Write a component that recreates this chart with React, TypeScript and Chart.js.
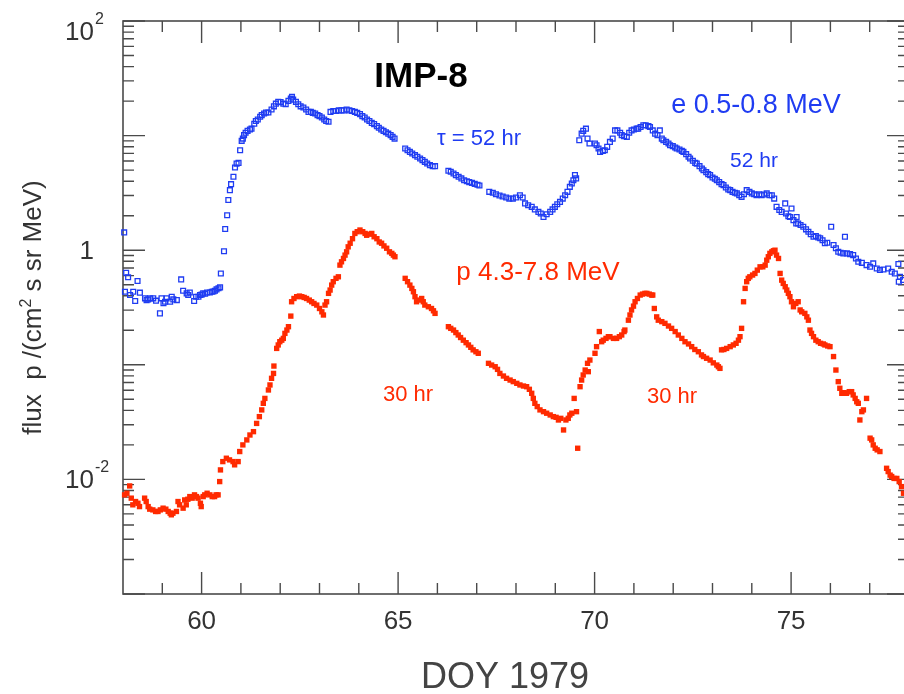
import React, { useEffect, useRef } from 'react';
import { Chart, registerables } from 'chart.js';
Chart.register(...registerables);

// ---------- data: electrons e 0.5-0.8 MeV (DOY 1979, flux) ----------
const electronDays = [
  58.03, 58.05, 58.08, 58.13, 58.18, 58.26, 58.31, 58.37, 58.43, 58.56,
  58.60, 58.64, 58.69, 58.77, 58.84, 58.94, 58.98, 59.03, 59.07, 59.11,
  59.20, 59.24, 59.28, 59.37, 59.48, 59.53, 59.62, 59.66, 59.70, 59.81,
  59.86, 59.92, 59.96, 60.00, 60.04, 60.09, 60.14, 60.21, 60.26, 60.30,
  60.34, 60.38, 60.43, 60.47, 60.49, 60.57, 60.60, 60.65, 60.68, 60.72,
  60.75, 60.81, 60.85, 60.89, 60.94, 60.98, 61.02, 61.05, 61.08, 61.12,
  61.17, 61.23, 61.27, 61.34, 61.38, 61.43, 61.49, 61.53, 61.59, 61.64,
  61.70, 61.78, 61.84, 61.89, 61.95, 62.01, 62.08, 62.14, 62.21, 62.27,
  62.30, 62.33, 62.40, 62.46, 62.52, 62.59, 62.66, 62.72, 62.78, 62.83,
  62.89, 62.95, 63.00, 63.06, 63.12, 63.17, 63.23, 63.28, 63.35, 63.42,
  63.49, 63.56, 63.62, 63.69, 63.76, 63.83, 63.90, 63.96, 64.03, 64.09,
  64.15, 64.21, 64.27, 64.33, 64.39, 64.46, 64.51, 64.57, 64.63, 64.69,
  64.75, 64.81, 64.86, 64.91, 65.18, 65.24, 65.30, 65.36, 65.43, 65.49,
  65.56, 65.62, 65.68, 65.74, 65.81, 65.88, 65.94, 66.28, 66.34, 66.41,
  66.47, 66.54, 66.61, 66.68, 66.75, 66.81, 66.88, 66.95, 67.02, 67.07,
  67.32, 67.41, 67.49, 67.58, 67.66, 67.75, 67.83, 67.92, 68.00, 68.10,
  68.17, 68.23, 68.31, 68.40, 68.48, 68.57, 68.63, 68.70, 68.78, 68.87,
  68.93, 68.99, 69.05, 69.12, 69.19, 69.25, 69.31, 69.37, 69.42, 69.46,
  69.50, 69.53, 69.61, 69.67, 69.71, 69.78, 69.82, 69.87, 70.01, 70.05,
  70.10, 70.14, 70.21, 70.26, 70.32, 70.39, 70.46, 70.52, 70.58, 70.65,
  70.69, 70.75, 70.82, 70.88, 70.94, 71.00, 71.07, 71.11, 71.17, 71.24,
  71.30, 71.37, 71.41, 71.48, 71.54, 71.60, 71.66, 71.71, 71.75, 71.82,
  71.88, 71.92, 71.99, 72.05, 72.09, 72.16, 72.22, 72.26, 72.33, 72.39,
  72.43, 72.50, 72.56, 72.60, 72.67, 72.73, 72.77, 72.84, 72.89, 72.94,
  73.00, 73.06, 73.11, 73.17, 73.23, 73.28, 73.34, 73.40, 73.45, 73.51,
  73.57, 73.62, 73.68, 73.74, 73.80, 73.87, 73.94, 74.00, 74.06, 74.12,
  74.19, 74.25, 74.31, 74.38, 74.45, 74.51, 74.57, 74.63, 74.70, 74.76,
  74.85, 74.87, 74.93, 74.97, 75.01, 75.06, 75.13, 75.14, 75.18, 75.24,
  75.31, 75.38, 75.44, 75.50, 75.57, 75.63, 75.69, 75.74, 75.80, 75.86,
  75.92, 76.02, 76.08, 76.14, 76.20, 76.26, 76.33, 76.37, 76.42, 76.50,
  76.58, 76.65, 76.71, 76.80, 76.92, 77.01, 77.09, 77.18, 77.26, 77.35,
  77.47, 77.56, 77.64, 77.73, 77.74, 77.77, 77.85,
];
const electronFlux = [
  1.43, 0.434, 0.635, 0.58, 0.406, 0.434, 0.36, 0.538, 0.426, 0.38,
  0.367, 0.372, 0.38, 0.38, 0.363, 0.281, 0.38, 0.344, 0.355, 0.38,
  0.355, 0.393, 0.372, 0.367, 0.556, 0.443, 0.42, 0.406, 0.428, 0.36,
  0.393, 0.393, 0.406, 0.41, 0.42, 0.417, 0.428, 0.428, 0.434, 0.436,
  0.443, 0.455, 0.465, 0.474, 0.627, 0.98, 1.53, 2.02, 2.74, 3.34,
  3.77, 4.37, 5.27, 5.70, 5.78, 7.46, 9.0, 9.42, 10.1, 10.6,
  11.0, 11.3, 11.5, 12.7, 13.4, 13.8, 14.6, 15.1, 15.6, 15.9,
  15.9, 16.9, 18.0, 19.0, 19.7, 19.6, 19.0, 18.8, 20.1, 21.0,
  21.8, 20.6, 19.7, 18.8, 18.0, 17.6, 16.9, 16.1, 16.1, 15.8,
  15.6, 15.1, 14.8, 14.4, 13.8, 13.4, 13.2, 16.1, 16.4, 16.4,
  16.6, 16.6, 16.6, 16.9, 16.6, 16.4, 16.1, 15.8, 15.4, 14.8,
  14.4, 13.8, 13.4, 12.9, 12.6, 12.1, 11.7, 11.3, 11.0, 10.7,
  10.4, 10.1, 9.75, 9.42, 7.71, 7.46, 7.21, 6.98, 6.75, 6.53,
  6.31, 6.11, 5.9, 5.71, 5.52, 5.41, 5.41, 4.93, 4.83, 4.67,
  4.52, 4.37, 4.23, 4.08, 4.0, 3.93, 3.87, 3.79, 3.72, 3.67,
  3.23, 3.17, 3.08, 3.0, 2.94, 2.88, 2.82, 2.82, 2.88, 3.02,
  2.88, 2.56, 2.47, 2.39, 2.27, 2.16, 2.09, 1.95, 2.06, 2.16,
  2.27, 2.39, 2.52, 2.64, 2.82, 3.02, 3.23, 3.57, 3.82, 4.08,
  4.52, 4.23, 9.12, 10.4, 11.0, 11.5, 9.42, 8.53, 8.53, 8.24,
  7.71, 7.21, 7.36, 7.46, 7.98, 8.81, 9.42, 11.1, 11.1, 10.6,
  10.1, 9.88, 9.75, 10.6, 11.1, 11.3, 11.5, 11.5, 11.9, 12.3,
  12.3, 12.1, 11.9, 11.1, 10.4, 10.1, 11.1, 9.42, 9.12, 8.81,
  8.53, 8.24, 8.09, 7.87, 7.71, 7.57, 7.36, 7.21, 6.89, 6.53,
  6.31, 6.03, 5.78, 5.70, 5.41, 5.16, 4.99, 4.80, 4.61, 4.52,
  4.31, 4.20, 4.08, 3.93, 3.77, 3.70, 3.52, 3.39, 3.34, 3.23,
  3.17, 3.13, 3.02, 2.92, 3.08, 3.34, 3.23, 3.13, 3.08, 3.02,
  3.08, 3.02, 3.06, 3.13, 3.02, 3.02, 2.82, 2.39, 2.24, 2.16,
  2.56, 2.09, 1.98, 1.95, 2.31, 1.83, 1.71, 1.95, 1.71, 1.66,
  1.60, 1.52, 1.45, 1.38, 1.31, 1.33, 1.29, 1.27, 1.22, 1.15,
  1.16, 1.60, 1.11, 1.04, 0.968, 0.95, 0.938, 1.31, 0.938, 0.925,
  0.906, 0.847, 0.792, 0.776, 0.741, 0.718, 0.767, 0.693, 0.671, 0.679,
  0.693, 0.649, 0.627, 0.757, 0.53, 0.586, 0.55,
];

// ---------- data: protons p 4.3-7.8 MeV (DOY 1979, flux) ----------
const protonDays = [
  58.04, 58.10, 58.17, 58.21, 58.25, 58.32, 58.38, 58.42, 58.55, 58.59,
  58.64, 58.68, 58.76, 58.83, 58.89, 58.95, 59.02, 59.09, 59.15, 59.20,
  59.23, 59.27, 59.36, 59.40, 59.44, 59.53, 59.57, 59.61, 59.65, 59.70,
  59.76, 59.82, 59.87, 59.91, 59.97, 59.99, 60.04, 60.08, 60.14, 60.21,
  60.27, 60.33, 60.37, 60.42, 60.46, 60.48, 60.54, 60.63, 60.71, 60.80,
  60.84, 60.93, 60.97, 61.05, 61.15, 61.23, 61.32, 61.40, 61.47, 61.53,
  61.57, 61.61, 61.70, 61.74, 61.78, 61.83, 61.84, 61.91, 61.95, 61.99,
  62.04, 62.08, 62.12, 62.17, 62.21, 62.27, 62.29, 62.35, 62.42, 62.49,
  62.55, 62.61, 62.67, 62.74, 62.80, 62.86, 62.93, 63.00, 63.06, 63.10,
  63.14, 63.18, 63.23, 63.27, 63.31, 63.35, 63.42, 63.48, 63.52, 63.56,
  63.61, 63.65, 63.69, 63.73, 63.78, 63.84, 63.90, 63.96, 64.03, 64.10,
  64.16, 64.20, 64.27, 64.33, 64.39, 64.46, 64.52, 64.58, 64.64, 64.71,
  64.78, 64.84, 64.88, 64.92, 65.18, 65.24, 65.30, 65.35, 65.39, 65.43,
  65.47, 65.54, 65.60, 65.64, 65.68, 65.77, 65.85, 65.90, 65.94, 66.28,
  66.34, 66.41, 66.47, 66.53, 66.59, 66.66, 66.73, 66.79, 66.85, 66.91,
  66.98, 67.04, 67.30, 67.38, 67.47, 67.53, 67.59, 67.68, 67.76, 67.85,
  67.93, 68.02, 68.10, 68.19, 68.27, 68.34, 68.40, 68.44, 68.48, 68.54,
  68.61, 68.70, 68.78, 68.87, 68.95, 69.02, 69.08, 69.14, 69.21, 69.27,
  69.33, 69.37, 69.42, 69.48, 69.54, 69.57, 69.63, 69.67, 69.71, 69.76,
  69.82, 69.84, 69.88, 70.01, 70.05, 70.12, 70.18, 70.22, 70.29, 70.35,
  70.39, 70.48, 70.56, 70.63, 70.69, 70.75, 70.77, 70.86, 70.90, 70.94,
  70.99, 71.03, 71.09, 71.16, 71.22, 71.28, 71.33, 71.39, 71.45, 71.48,
  71.52, 71.58, 71.62, 71.71, 71.79, 71.88, 71.96, 72.05, 72.13, 72.22,
  72.30, 72.39, 72.47, 72.55, 72.64, 72.72, 72.77, 72.85, 72.94, 73.02,
  73.11, 73.15, 73.19, 73.23, 73.29, 73.36, 73.45, 73.53, 73.60, 73.66,
  73.70, 73.74, 73.79, 73.83, 73.87, 73.91, 73.95, 74.02, 74.08, 74.14,
  74.21, 74.28, 74.34, 74.38, 74.42, 74.46, 74.51, 74.55, 74.59, 74.63,
  74.68, 74.72, 74.76, 74.80, 74.85, 74.89, 74.93, 74.97, 75.01, 75.06,
  75.12, 75.18, 75.23, 75.27, 75.35, 75.40, 75.44, 75.48, 75.52, 75.57,
  75.63, 75.69, 75.75, 75.82, 75.86, 75.93, 75.99, 76.08, 76.14, 76.20,
  76.24, 76.29, 76.35, 76.41, 76.48, 76.54, 76.58, 76.63, 76.67, 76.71,
  76.75, 76.80, 76.84, 76.92, 77.01, 77.05, 77.09, 77.14, 77.19, 77.26,
  77.43, 77.47, 77.52, 77.56, 77.62, 77.69, 77.75, 77.81, 77.86,
];
const protonFlux = [
  0.00733, 0.00757, 0.00877, 0.00686, 0.0060, 0.00641, 0.00619, 0.00579, 0.00686, 0.00641,
  0.00579, 0.0055, 0.00542, 0.00525, 0.00525, 0.00542, 0.00561, 0.0055, 0.00525, 0.00507,
  0.00491, 0.00507, 0.00525, 0.00641, 0.0060, 0.00561, 0.00662, 0.0060, 0.00671, 0.00708,
  0.00686, 0.00733, 0.00708, 0.00686, 0.00619, 0.00579, 0.00708, 0.00733, 0.00757, 0.00733,
  0.00708, 0.00708, 0.00733, 0.00733, 0.00957, 0.0121, 0.0143, 0.0153, 0.0148, 0.0143,
  0.0134, 0.0143, 0.0175, 0.02, 0.0221, 0.0244, 0.0261, 0.0308, 0.0353, 0.0404,
  0.0461, 0.0509, 0.0603, 0.0667, 0.0762, 0.0841, 0.0975, 0.139, 0.149, 0.159,
  0.164, 0.17, 0.188, 0.201, 0.215, 0.266, 0.355, 0.379, 0.393, 0.398,
  0.393, 0.387, 0.379, 0.367, 0.355, 0.343, 0.332, 0.31, 0.29, 0.272,
  0.332, 0.355, 0.42, 0.449, 0.496, 0.531, 0.568, 0.586, 0.741, 0.792,
  0.847, 0.906, 0.968, 1.07, 1.15, 1.26, 1.40, 1.45, 1.50, 1.45,
  1.40, 1.35, 1.38, 1.40, 1.31, 1.26, 1.18, 1.15, 1.09, 1.04,
  0.968, 0.938, 0.906, 0.877, 0.568, 0.531, 0.496, 0.464, 0.434, 0.393,
  0.355, 0.367, 0.379, 0.355, 0.332, 0.321, 0.31, 0.296, 0.281, 0.215,
  0.208, 0.201, 0.191, 0.182, 0.173, 0.164, 0.156, 0.149, 0.142, 0.135,
  0.13, 0.126, 0.103, 0.0995, 0.0962, 0.0912, 0.0841, 0.0798, 0.0762, 0.0736,
  0.0713, 0.0689, 0.0667, 0.0653, 0.0644, 0.0611, 0.0564, 0.0509, 0.0461, 0.0432,
  0.0404, 0.039, 0.0378, 0.0365, 0.0353, 0.0348, 0.033, 0.0341, 0.027, 0.033,
  0.0341, 0.0365, 0.0378, 0.0509, 0.039, 0.0187, 0.0644, 0.0736, 0.0815, 0.09,
  0.103, 0.0871, 0.110, 0.126, 0.144, 0.195, 0.159, 0.164, 0.17, 0.176,
  0.176, 0.17, 0.17, 0.176, 0.182, 0.195, 0.201, 0.245, 0.272, 0.301,
  0.325, 0.355, 0.379, 0.406, 0.414, 0.42, 0.42, 0.414, 0.406, 0.406,
  0.31, 0.262, 0.245, 0.238, 0.23, 0.218, 0.208, 0.195, 0.182, 0.17,
  0.159, 0.152, 0.144, 0.136, 0.13, 0.122, 0.118, 0.114, 0.11, 0.104,
  0.0995, 0.0962, 0.0931, 0.135, 0.136, 0.139, 0.144, 0.149, 0.154, 0.164,
  0.176, 0.208, 0.355, 0.464, 0.531, 0.568, 0.586, 0.607, 0.627, 0.67,
  0.716, 0.716, 0.741, 0.818, 0.877, 0.938, 0.968, 0.989, 1.0, 0.906,
  0.847, 0.627, 0.548, 0.513, 0.48, 0.449, 0.42, 0.393, 0.355, 0.321,
  0.343, 0.355, 0.301, 0.29, 0.281, 0.262, 0.245, 0.201, 0.188, 0.176,
  0.164, 0.159, 0.154, 0.152, 0.149, 0.146, 0.144, 0.118, 0.09, 0.0713,
  0.0624, 0.0564, 0.0571, 0.0564, 0.0583, 0.0583, 0.0546, 0.0509, 0.0476, 0.0461,
  0.033, 0.039, 0.0404, 0.0509, 0.0229, 0.0221, 0.02, 0.0187, 0.0181, 0.0175,
  0.0125, 0.0117, 0.0109, 0.0106, 0.0102, 0.0102, 0.00957, 0.00865, 0.00757,
];

// ---------- axes ----------
const X_MIN = 58;
const X_MAX = 78;
const Y_MIN = 1e-3;
const Y_MAX = 1e2;
const xMajorTicks = [60, 65, 70, 75];
const xTickLabels = ['60', '65', '70', '75'];
const xMinorTicks = [59, 61, 62, 63, 64, 66, 67, 68, 69, 71, 72, 73, 74, 76, 77];
const yDecades = [1e-3, 1e-2, 1e-1, 1, 1e1, 1e2];
const yLabelValues = [100, 1, 0.01];
const yLabelBases = ['10', '1', '10'];
const yLabelExps = ['2', '', '-2'];

const FONT = '"Liberation Sans", Arial, Helvetica, sans-serif';
const BLUE = '#1f3cf2';
const RED = '#ff2a00';
const AXIS = '#4a4a4a';
const TEXT = '#333333';

const decorPlugin = {
  id: 'decor',
  beforeDatasetsDraw(chart: any) {
    const ctx = chart.ctx as CanvasRenderingContext2D;
    const xs = chart.scales.x;
    const ys = chart.scales.y;
    const { left, right, top, bottom } = chart.chartArea;
    ctx.save();
    ctx.strokeStyle = AXIS;
    ctx.lineWidth = 1.6;
    ctx.strokeRect(left, top, right - left, bottom - top);
    ctx.lineWidth = 1.4;
    ctx.beginPath();
    const MAJ = 22;
    const MIN = 11;
    xMajorTicks.forEach((v) => {
      const p = xs.getPixelForValue(v);
      ctx.moveTo(p, bottom); ctx.lineTo(p, bottom - MAJ);
      ctx.moveTo(p, top); ctx.lineTo(p, top + MAJ);
    });
    xMinorTicks.forEach((v) => {
      const p = xs.getPixelForValue(v);
      ctx.moveTo(p, bottom); ctx.lineTo(p, bottom - MIN);
      ctx.moveTo(p, top); ctx.lineTo(p, top + MIN);
    });
    yDecades.forEach((d) => {
      const p = ys.getPixelForValue(d);
      ctx.moveTo(left, p); ctx.lineTo(left + MAJ, p);
      ctx.moveTo(right, p); ctx.lineTo(right - MAJ, p);
      if (d < Y_MAX) {
        for (let m = 2; m <= 9; m++) {
          const q = ys.getPixelForValue(d * m);
          ctx.moveTo(left, q); ctx.lineTo(left + MIN, q);
          ctx.moveTo(right, q); ctx.lineTo(right - MIN, q);
        }
      }
    });
    ctx.stroke();

    // x tick labels
    ctx.fillStyle = TEXT;
    ctx.font = `26px ${FONT}`;
    ctx.textAlign = 'center';
    ctx.textBaseline = 'alphabetic';
    xMajorTicks.forEach((v, i) => {
      ctx.fillText(xTickLabels[i], xs.getPixelForValue(v), bottom + 35);
    });

    // y tick labels with superscripts
    yLabelValues.forEach((v, i) => {
      const p = ys.getPixelForValue(v);
      let base = p + 9;
      if (v === Y_MAX) base = p + 18.5;
      ctx.font = `26px ${FONT}`;
      ctx.textAlign = 'right';
      ctx.fillText(yLabelBases[i], left - 29, base);
      if (yLabelExps[i]) {
        ctx.font = `16px ${FONT}`;
        ctx.textAlign = 'left';
        ctx.fillText(yLabelExps[i], left - 28, base - 16);
      }
    });

    // x title
    ctx.fillStyle = '#444444';
    ctx.font = `36px ${FONT}`;
    ctx.textAlign = 'center';
    ctx.fillText('DOY 1979', 505, 688);

    // y title
    ctx.save();
    ctx.translate(41, (top + bottom) / 2);
    ctx.rotate(-Math.PI / 2);
    ctx.fillStyle = TEXT;
    ctx.textAlign = 'left';
    const s1 = 'flux  p /(cm';
    const s2 = '2';
    const s3 = ' s sr MeV)';
    ctx.font = `26px ${FONT}`;
    const w1 = ctx.measureText(s1).width;
    const w3 = ctx.measureText(s3).width;
    ctx.font = `16px ${FONT}`;
    const w2 = ctx.measureText(s2).width;
    const start = -(w1 + w2 + w3) / 2;
    ctx.font = `26px ${FONT}`;
    ctx.fillText(s1, start, 0);
    ctx.font = `16px ${FONT}`;
    ctx.fillText(s2, start + w1, -10);
    ctx.font = `26px ${FONT}`;
    ctx.fillText(s3, start + w1 + w2, 0);
    ctx.restore();
    ctx.restore();
  },
  afterDatasetsDraw(chart: any) {
    const ctx = chart.ctx as CanvasRenderingContext2D;
    ctx.save();
    ctx.textAlign = 'center';
    ctx.textBaseline = 'alphabetic';
    ctx.fillStyle = '#000000';
    ctx.font = `bold 35px ${FONT}`;
    ctx.fillText('IMP-8', 421, 87);
    ctx.fillStyle = BLUE;
    ctx.font = `22px ${FONT}`;
    ctx.fillText('\u03c4 = 52 hr', 479, 145);
    ctx.font = `27px ${FONT}`;
    ctx.fillText('e 0.5-0.8 MeV', 756, 113);
    ctx.font = `21px ${FONT}`;
    ctx.fillText('52 hr', 754, 167);
    ctx.fillStyle = RED;
    ctx.font = `26px ${FONT}`;
    ctx.fillText('p 4.3-7.8 MeV', 538, 280);
    ctx.font = `22px ${FONT}`;
    ctx.fillText('30 hr', 408, 401);
    ctx.fillText('30 hr', 672, 403);
    ctx.restore();
  },
};

export default function App() {
  const ref = useRef<HTMLCanvasElement>(null);
  useEffect(() => {
    if (!ref.current) return;
    const n1 = Math.min(electronDays.length, electronFlux.length);
    const n2 = Math.min(protonDays.length, protonFlux.length);
    const chart = new Chart(ref.current, {
      type: 'scatter',
      data: {
        datasets: [
          {
            label: 'e 0.5-0.8 MeV',
            data: electronDays.slice(0, n1).map((d, i) => ({ x: d, y: electronFlux[i] })),
            pointStyle: 'rect',
            pointRadius: 3.4,
            pointBorderWidth: 1.3,
            pointBorderColor: BLUE,
            pointBackgroundColor: 'rgba(0,0,0,0)',
            showLine: false,
            clip: false,
          } as any,
          {
            label: 'p 4.3-7.8 MeV',
            data: protonDays.slice(0, n2).map((d, i) => ({ x: d, y: protonFlux[i] })),
            pointStyle: 'rect',
            pointRadius: 3.8,
            pointBorderWidth: 0,
            pointBackgroundColor: RED,
            pointBorderColor: RED,
            showLine: false,
            clip: false,
          } as any,
        ],
      },
      options: {
        animation: false,
        responsive: false,
        devicePixelRatio: 1,
        layout: { padding: { left: 123, right: 11, top: 21, bottom: 100 } },
        plugins: { legend: { display: false }, tooltip: { enabled: false } },
        events: [],
        scales: {
          x: { type: 'linear', min: X_MIN, max: X_MAX, display: false },
          y: { type: 'logarithmic', min: Y_MIN, max: Y_MAX, display: false },
        },
      },
      plugins: [decorPlugin],
    });
    return () => chart.destroy();
  }, []);
  return (
    <div style={{ position: 'absolute', left: 0, top: 0, width: 904, height: 694, overflow: 'hidden', background: '#ffffff' }}>
      <canvas ref={ref} width={920} height={694} style={{ display: 'block' }} />
    </div>
  );
}
